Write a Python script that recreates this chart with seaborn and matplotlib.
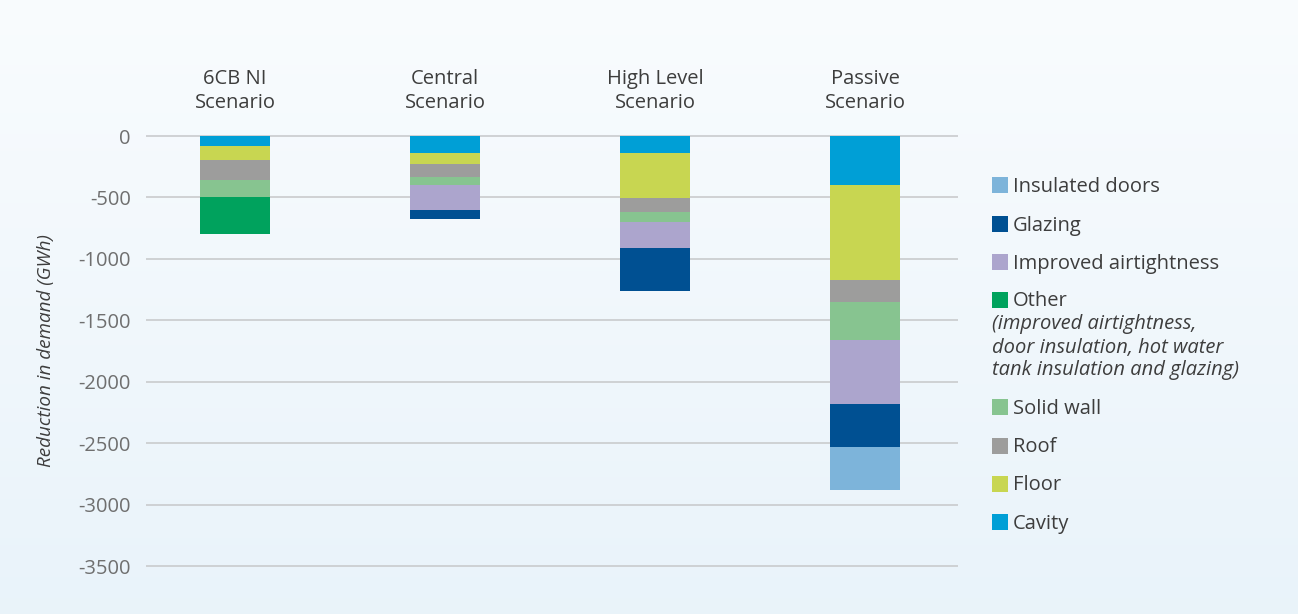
import numpy as np
import pandas as pd
import matplotlib
matplotlib.use("Agg")
import matplotlib.pyplot as plt
from matplotlib.patches import Rectangle
import seaborn as sns

# Reduction in heating demand (GWh) by measure, per scenario
scenarios = ["6CB NI\nScenario", "Central\nScenario", "High Level\nScenario", "Passive\nScenario"]
cavity = [80, 140, 140, 400]
floor = [115, 90, 365, 770]
roof = [160, 105, 115, 180]
solid_wall = [145, 65, 80, 310]
other = [295, 0, 0, 0]
airtightness = [0, 205, 210, 520]
glazing = [0, 70, 350, 350]
insulated_doors = [0, 0, 0, 355]

# stacking order from the zero line downwards
measures = ["Cavity", "Floor", "Roof", "Solid wall", "Other",
            "Improved airtightness", "Glazing", "Insulated doors"]
values = [cavity, floor, roof, solid_wall, other, airtightness, glazing, insulated_doors]
colors = {
    "Cavity": "#009fd6",
    "Floor": "#c8d651",
    "Roof": "#9d9d9c",
    "Solid wall": "#87c490",
    "Other": "#00a25d",
    "Improved airtightness": "#aca5cd",
    "Glazing": "#005092",
    "Insulated doors": "#7db4da",
}

W, H = 1298, 614
DPI = 100
FS = 14.5
sns.set_theme(style="white")
plt.rcParams["font.family"] = ["Open Sans", "DejaVu Sans"]

fig = plt.figure(figsize=(W / DPI, H / DPI), dpi=DPI)

# soft vertical background gradient
bg = fig.add_axes([0, 0, 1, 1], zorder=-10)
grad = np.linspace(0, 1, 256).reshape(-1, 1)
top = np.array([0.976, 0.988, 0.996])
bot = np.array([0.914, 0.953, 0.980])
img = top + (bot - top) * grad[..., None]
bg.imshow(img, aspect="auto", extent=[0, 1, 0, 1])
bg.set_axis_off()

def fx(px):
    return px / W

def fy(py):
    return 1 - py / H

pad = 20
scale = 430 / 3500  # px per GWh
ax_top = 136 - pad * scale
ax_bot = 566 + pad * scale
ax = fig.add_axes([fx(146), fy(ax_bot), fx(958) - fx(146), (ax_bot - ax_top) / H])
ax.set_facecolor("none")

# cumulative depths; draw the deepest first so shallower segments sit on top
df = pd.DataFrame({"scenario": scenarios})
cum = np.zeros(len(scenarios))
cums = []
for name, vals in zip(measures, values):
    cum = cum - np.array(vals, dtype=float)
    cums.append((name, cum.copy()))

for name, depth in reversed(cums):
    d = df.copy()
    d["value"] = depth
    sns.barplot(data=d, x="scenario", y="value", color=colors[name],
                width=0.33, saturation=1, ax=ax, errorbar=None,
                linewidth=0, zorder=3)

ax.set_ylim(-3500 - pad, pad)
ax.set_xlim(-0.424, 3.443)
ax.set_yticks(np.arange(-3500, 1, 500))
ax.set_yticklabels([f"{v}" for v in np.arange(-3500, 1, 500)])
ax.grid(axis="y", color="#c9cbcd", linewidth=1.2, zorder=0)
ax.grid(axis="x", visible=False)
for s in ax.spines.values():
    s.set_visible(False)

ax.xaxis.tick_top()
ax.set_xlabel("")
ax.tick_params(axis="x", length=0, pad=15, labelsize=FS, labelcolor="#3d3d3d")
ax.tick_params(axis="y", length=0, pad=11, labelsize=FS, labelcolor="#6f6f6f")
for lbl in ax.get_xticklabels():
    lbl.set_linespacing(1.25)

ax.set_ylabel("Reduction in demand (GWh)", fontsize=13.6, style="italic",
              color="#3d3d3d", labelpad=17)

# legend
legend_rows = [
    ("Insulated doors", 185),
    ("Glazing", 224),
    ("Improved airtightness", 262),
    ("Other", 300),
    ("Solid wall", 407),
    ("Roof", 446),
    ("Floor", 484),
    ("Cavity", 522),
]
for name, yc in legend_rows:
    fig.add_artist(Rectangle((fx(992), fy(yc + 8)), 16 / W, 16 / H,
                             transform=fig.transFigure, facecolor=colors[name],
                             edgecolor="none"))
    fig.text(fx(1013), fy(yc + 1.5), name, fontsize=FS, color="#3d3d3d",
             va="center", ha="left")

other_note = ["(improved airtightness,", "door insulation, hot water",
              "tank insulation and glazing)"]
for i, line in enumerate(other_note):
    fig.text(fx(992), fy(324.5 + 23 * i), line, fontsize=FS, style="italic",
             color="#3d3d3d", va="center", ha="left")

fig.savefig("out.png", dpi=DPI)
